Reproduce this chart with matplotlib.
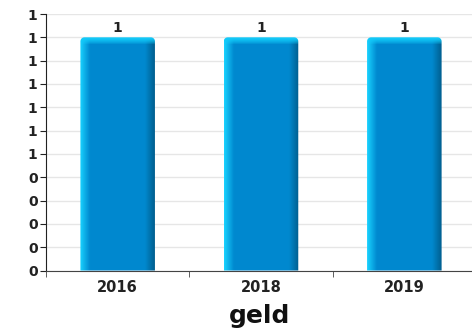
import matplotlib

matplotlib.use("Agg")
import matplotlib.pyplot as plt  # noqa: E402
import numpy as np  # noqa: E402
from matplotlib.colors import to_rgb  # noqa: E402
from matplotlib.patches import Polygon  # noqa: E402

# chart data
years = ["2016", "2018", "2019"]
values = [1, 1, 1]
y_ticks = [0.0, 0.1, 0.2, 0.3, 0.4, 0.5, 0.6, 0.7, 0.8, 0.9, 1.0, 1.1]
y_labels = ["0", "0", "0", "0", "0", "1", "1", "1", "1", "1", "1", "1"]
x_title = "geld"

# bar palette
LIGHT = "#19d2ff"
MAIN = "#0089cf"
DARK = "#005e8e"
TOP = "#12cbfa"

AX_W_PX, AX_H_PX = 430, 256.5


def bar_image(n_cols=150, n_rows=234):
    light, main, dark, top = (np.array(to_rgb(c)) for c in (LIGHT, MAIN, DARK, TOP))
    img = np.zeros((n_rows, n_cols, 3))
    t = np.linspace(0, 1, n_cols)
    for i, u in enumerate(t):
        if u < 0.13:
            c = light + (main - light) * (u / 0.13)
        elif u > 0.87:
            c = main + (dark - main) * ((u - 0.87) / 0.13)
        else:
            c = main
        img[:, i] = c
    # lighter bevel along the top (~7 px)
    for r in range(7):
        k = (r / 7) ** 1.5
        img[r] = img[r] * k + top * (1 - k)
    return img


fig = plt.figure(figsize=(4.72, 3.33), dpi=100)
ax = fig.add_axes([46 / 472, 62.5 / 333, AX_W_PX / 472, AX_H_PX / 333])

ax.set_xlim(-0.5, len(years) - 0.5)
ax.set_ylim(0, 1.1)

x = np.arange(len(years))
bars = ax.bar(x, values, width=0.52, color="none", zorder=2)
img = bar_image()
px_x = len(years) / AX_W_PX
px_y = 1.1 / AX_H_PX
for b in bars:
    x0, y0 = b.get_x(), b.get_y()
    w, h = b.get_width(), b.get_height()
    # rounded-ish top corners (about 4 px)
    ang = np.linspace(0, np.pi / 2, 8)
    r = 4
    left = [(x0 + (r - r * np.cos(a)) * px_x, y0 + h - (r - r * np.sin(a)) * px_y) for a in ang]
    right = [(x0 + w - (r - r * np.cos(a)) * px_x, y0 + h - (r - r * np.sin(a)) * px_y)
             for a in ang[::-1]]
    outline = Polygon([(x0, y0)] + left + right + [(x0 + w, y0)],
                      closed=True, facecolor="none", edgecolor="none")
    ax.add_patch(outline)
    im = ax.imshow(img, extent=(x0, x0 + w, y0, y0 + h), aspect="auto",
                   interpolation="bilinear", zorder=3)
    im.set_clip_path(outline)
    ax.text(x0 + w / 2, y0 + h + 0.008, str(h),
            ha="center", va="bottom", fontsize=10, fontweight="bold",
            color="#222222", zorder=4)

ax.set_xlim(-0.5, len(years) - 0.5)
ax.set_ylim(0, 1.1)
ax.set_yticks(y_ticks)
ax.set_yticklabels(y_labels, fontsize=10, fontweight="bold", color="#222222")
ax.set_xticks(x)
ax.set_xticklabels(years, fontsize=10.5, fontweight="bold", color="#222222")
ax.tick_params(axis="x", length=0, pad=7)
ax.set_xticks(np.arange(len(years) + 1) - 0.5, minor=True)
ax.tick_params(axis="x", which="minor", length=4, color="#444444")
ax.tick_params(axis="y", length=4, color="#222222", pad=2)

ax.grid(axis="y", color="#e6e6e6", linewidth=1, zorder=0)
ax.set_axisbelow(True)
for side in ("top", "right"):
    ax.spines[side].set_visible(False)
ax.spines["left"].set_color("#222222")
ax.spines["bottom"].set_color("#444444")

fig.text(260 / 472, (333 - 323) / 333, x_title, ha="center", va="baseline",
         fontsize=18, fontweight="bold", color="#111111")

fig.savefig("out.png", dpi=100)
